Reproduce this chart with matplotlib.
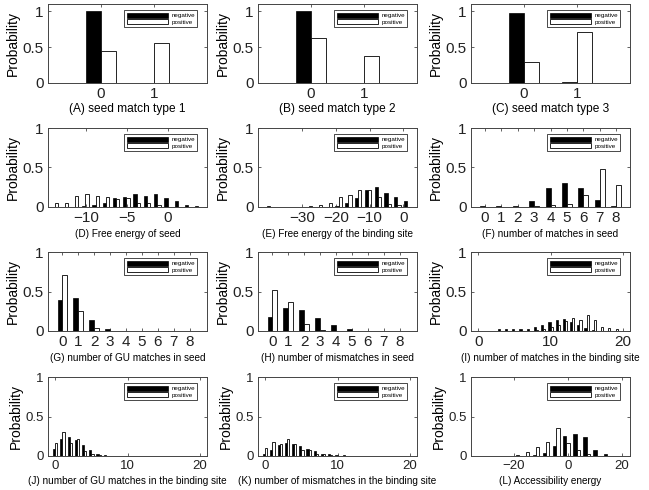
import matplotlib
matplotlib.use("Agg")
import matplotlib.pyplot as plt

plt.rcParams['font.family'] = ['Liberation Sans', 'DejaVu Sans']

# ---- data ----
# (A)-(C) seed match types
seed_x = [0, 1]
a_neg = [1.0, 0.005]
a_pos = [0.44, 0.56]
b_neg = [1.0, 0.005]
b_pos = [0.62, 0.38]
c_neg = [0.98, 0.02]
c_pos = [0.29, 0.71]

# (D) free energy of seed
d_x = [-13.8, -12.55, -11.3, -10.05, -8.8, -7.55, -6.3, -5.05, -3.8, -2.55, -1.3, -0.05, 1.2, 2.45, 3.7]
d_neg = [0, 0, 0, 0.01, 0.03, 0.05, 0.11, 0.13, 0.17, 0.14, 0.16, 0.12, 0.08, 0.03, 0.01]
d_pos = [0.05, 0.05, 0.14, 0.17, 0.14, 0.13, 0.10, 0.12, 0.05, 0.05, 0.02, 0.005, 0, 0, 0]

# (E) free energy of the binding site
e_x = [-39.5, -36.6, -33.7, -30.8, -27.9, -25.0, -22.1, -19.2, -16.3, -13.4, -10.5, -7.6, -4.7, -1.8, 1.1]
e_neg = [0.01, 0, 0, 0, 0, 0, 0, 0.01, 0.05, 0.12, 0.22, 0.25, 0.18, 0.13, 0.07]
e_pos = [0, 0, 0, 0, 0.01, 0.03, 0.05, 0.13, 0.15, 0.22, 0.21, 0.13, 0.04, 0.02, 0.005]

# (F)-(H) counts in seed
cnt8 = [0, 1, 2, 3, 4, 5, 6, 7, 8]
f_neg = [0.01, 0.01, 0.01, 0.07, 0.24, 0.30, 0.24, 0.09, 0.01]
f_pos = [0, 0, 0, 0.01, 0.02, 0.04, 0.15, 0.48, 0.28]
g_neg = [0.39, 0.42, 0.14, 0.03, 0.005, 0, 0, 0, 0]
g_pos = [0.71, 0.25, 0.04, 0.003, 0, 0, 0, 0, 0]
h_neg = [0.18, 0.29, 0.26, 0.16, 0.08, 0.02, 0.005, 0, 0]
h_pos = [0.52, 0.37, 0.09, 0.01, 0.005, 0, 0, 0, 0]

# (I)-(K) counts in the binding site
cnt20 = list(range(21))
i_neg = [0, 0, 0.005, 0.02, 0.03, 0.02, 0.02, 0.03, 0.05, 0.08, 0.12, 0.14, 0.15, 0.12, 0.08, 0.04, 0.01, 0.005, 0, 0, 0]
i_pos = [0, 0, 0, 0, 0, 0, 0, 0.005, 0.01, 0.03, 0.05, 0.08, 0.13, 0.16, 0.14, 0.20, 0.14, 0.05, 0.04, 0.02, 0.005]
j_neg = [0.09, 0.22, 0.24, 0.20, 0.14, 0.07, 0.03, 0.01, 0.005, 0.003, 0.002, 0.001, 0, 0, 0, 0, 0, 0, 0, 0, 0]
j_pos = [0.17, 0.31, 0.16, 0.22, 0.06, 0.02, 0.01, 0.005, 0.002, 0, 0, 0, 0, 0, 0, 0, 0, 0, 0, 0, 0]
k_neg = [0.03, 0.08, 0.14, 0.16, 0.15, 0.13, 0.09, 0.06, 0.03, 0.02, 0.01, 0.01, 0.005, 0.005, 0.003, 0, 0, 0, 0, 0, 0]
k_pos = [0.10, 0.18, 0.15, 0.22, 0.15, 0.07, 0.08, 0.03, 0.02, 0.01, 0.005, 0.003, 0, 0, 0, 0, 0, 0, 0, 0, 0]

# (L) accessibility energy
l_x = [-30.6, -26.85, -23.1, -19.35, -15.6, -11.85, -8.1, -4.35, -0.6, 3.15, 6.9, 10.65, 14.4, 18.15]
l_neg = [0.005, 0, 0, 0.003, 0.005, 0.01, 0.04, 0.13, 0.25, 0.28, 0.24, 0.07, 0.02, 0.005]
l_pos = [0, 0, 0, 0.01, 0.05, 0.11, 0.18, 0.35, 0.16, 0.08, 0.02, 0.005, 0, 0]

# ---- panel setup ----
panels = [
    (seed_x, a_neg, a_pos, 0.29, (-1, 2), [0, 1], "(A) seed match type 1"),
    (seed_x, b_neg, b_pos, 0.29, (-1, 2), [0, 1], "(B) seed match type 2"),
    (seed_x, c_neg, c_pos, 0.29, (-1, 2), [0, 1], "(C) seed match type 3"),
    (d_x, d_neg, d_pos, 0.4, (-14.6, 4.75), [-10, -5, 0], "(D) Free energy of seed"),
    (e_x, e_neg, e_pos, 0.95, (-43, 4), [-30, -20, -10, 0], "(E) Free energy of the binding site"),
    (cnt8, f_neg, f_pos, 0.3, (-0.85, 8.85), cnt8, "(F) number of matches in seed"),
    (cnt8, g_neg, g_pos, 0.3, (-0.9, 9.1), cnt8, "(G) number of GU matches in seed"),
    (cnt8, h_neg, h_pos, 0.3, (-0.9, 9.1), cnt8, "(H) number of mismatches in seed"),
    (cnt20, i_neg, i_pos, 0.3, (-1, 21), [0, 10, 20], "(I) number of matches in the binding site"),
    (cnt20, j_neg, j_pos, 0.3, (-1, 21), [0, 10, 20], "(J) number of GU matches in the binding site"),
    (cnt20, k_neg, k_pos, 0.3, (-1, 21), [0, 10, 20], "(K) number of mismatches in the binding site"),
    (l_x, l_neg, l_pos, 1.2, (-36, 23), [-20, 0, 20], "(L) Accessibility energy"),
]

W, H = 649, 490
col_left = [48, 258, 471]
row_top = [4, 128, 252, 377]
pw, ph = 159, 79

fig = plt.figure(figsize=(W / 100, H / 100), dpi=100)

for n, (x, neg, pos, w, xlim, xticks, label) in enumerate(panels):
    r, c = divmod(n, 3)
    ax = fig.add_axes([col_left[c] / W, 1 - (row_top[r] + ph) / H, pw / W, ph / H])
    xn = [v - w / 2 for v in x]
    xp = [v + w / 2 for v in x]
    ax.bar(xn, neg, width=w, color='black', edgecolor='black', linewidth=0.5, label='negative')
    ax.bar(xp, pos, width=w, color='white', edgecolor='black', linewidth=0.6, label='positive')
    ax.set_xlim(*xlim)
    ax.set_xticks(xticks)
    if r == 0:
        ax.set_ylim(0, 1.1)
    else:
        ax.set_ylim(0, 1)
    ax.set_yticks([0, 0.5, 1])
    ax.set_yticklabels(['0', '0.5', '1'])
    tsize = 9.5 if r == 3 else 11
    ax.tick_params(direction='in', top=True, right=True, length=2.5, width=0.5,
                   labelsize=tsize, pad=3, colors='#222222')
    for s in ax.spines.values():
        s.set_linewidth(0.7)
        s.set_color('#444444')
    ax.set_ylabel('Probability', fontsize=10, labelpad=2)
    if r == 0:
        ax.set_xlabel(label, fontsize=8.6, labelpad=1)
    else:
        ax.set_xlabel(label, fontsize=7.2, labelpad=3)
    leg = ax.legend(loc='upper right', fontsize=4.5, handlelength=6.5, handleheight=0.8,
                    handletextpad=0.6, borderpad=0.4, labelspacing=0.15,
                    fancybox=False, framealpha=1, edgecolor='black',
                    bbox_to_anchor=(0.94, 0.92), borderaxespad=0)
    leg.get_frame().set_linewidth(0.5)

fig.savefig('out.png', dpi=100)
